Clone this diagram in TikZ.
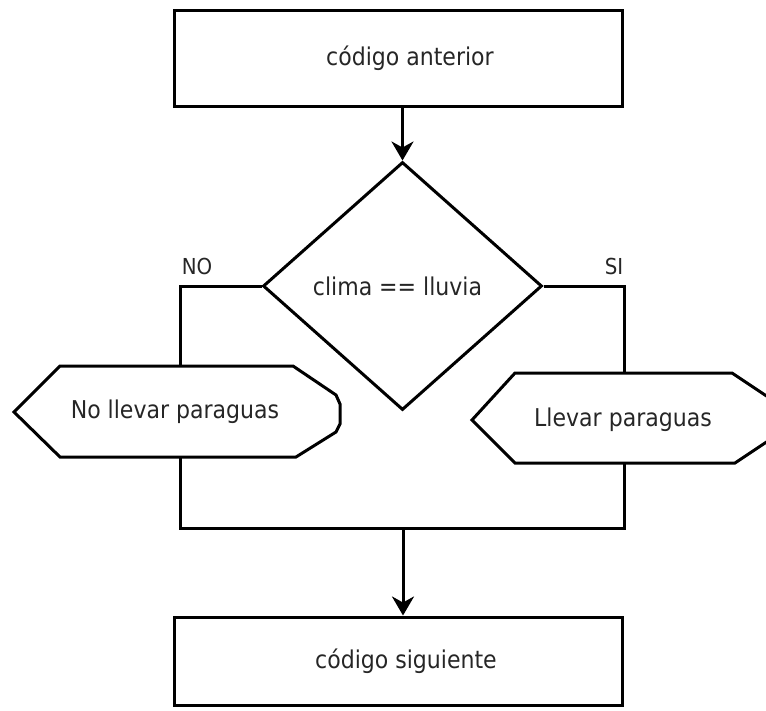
\documentclass[tikz,border=0pt]{standalone}
\usepackage{fontspec}
\setmainfont{DejaVu Sans Condensed}
\usetikzlibrary{arrows.meta,shapes.geometric}
\begin{document}
\begin{tikzpicture}[x=1pt,y=-1pt,
  outline/.style={draw=black, line width=3pt, line join=miter},
  procbox/.style={outline, rectangle, inner sep=0pt},
  decision/.style={outline, diamond, inner sep=0pt, aspect=1.125},
  txt/.style={text=black!85, font=\fontsize{24.5}{28}\selectfont},
  tag/.style={text=black!85, font=\fontsize{22}{25}\selectfont, inner sep=0pt},
  link/.style={line width=3pt},
  flow/.style={link, -{Stealth[length=19pt,width=22pt,inset=6pt]}}]
\useasboundingbox (0,0) rectangle (766,710);

% process boxes
\node[procbox, txt, minimum width=448pt, minimum height=96pt] (prev) at (398,58) {\hspace*{24pt}\raisebox{-3pt}{código anterior}};
\node[procbox, txt, minimum width=448pt, minimum height=88pt] (next) at (398,661) {\hspace*{16pt}código siguiente};

% decision
\node[decision, txt, minimum width=279pt, minimum height=248pt] (cond) at (402.5,286) {clima == lluvia\hspace*{10pt}};

% display shapes (pointed left side, blunt right side)
\node[txt] (nolbl) at (175,412) {No llevar paraguas};
\draw[outline] (14,412) -- (60,366) -- (293,366) -- (336,395) -- (340,404)
  -- (340,424) -- (336,432) -- (296,457) -- (60,457) -- cycle;
\node[txt] (silbl) at (623,420) {Llevar paraguas};
\draw[outline] (472,420) -- (515,373) -- (732,373) -- (768,397) -- (772,405)
  -- (772,433) -- (768,441) -- (735,463) -- (515,463) -- cycle;

\coordinate (noTop) at (180,366);
\coordinate (noBot) at (180,457);
\coordinate (siTop) at (624,373);
\coordinate (siBot) at (624,463);
\coordinate (join) at (403,528);

% connectors
\draw[flow] (prev.south -| cond.north) -- (cond.north);
\draw[link] (cond.west) -| (noTop);
\draw[link] (cond.east) -| (siTop);
\draw[link] (noBot) |- (join);
\draw[link] (siBot) |- (join);
\draw[flow] (join) -- (join |- next.north);

% branch labels
\node[tag] (nolab) at (197,266) {NO};
\node[tag] (silab) at (614,266) {SI};
\end{tikzpicture}
\end{document}
